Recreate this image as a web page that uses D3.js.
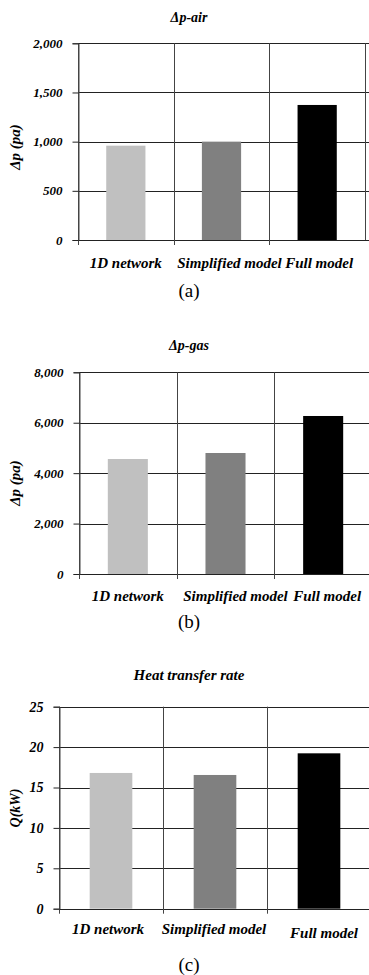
<!DOCTYPE html>
<html>
<head>
 <title>Pressure drop and heat transfer</title>
 <script src="https://d3js.org/d3.v7.min.js"></script>
 <style>
   body { margin: 0; background: #fff; }
   svg { display: block; }
 </style>
</head>
<body>
 <div id="chart"></div>
 <script>
   // categories and values
   const categories = ["1D network", "Simplified model", "Full model"];
   const airValues = [959, 1000, 1373];
   const gasValues = [4561, 4799, 6267];
   const heatValues = [16.8, 16.55, 19.23];
   const airTicks = [0, 500, 1000, 1500, 2000];
   const gasTicks = [0, 2000, 4000, 6000, 8000];
   const heatTicks = [0, 5, 10, 15, 20, 25];
   const barColors = ["#c0c0c0", "#808080", "#000000"];

   const serif = '"Liberation Serif", "Times New Roman", Times, serif';

   let svg = d3.select('#chart')
     .append('svg')
     .attr('width', 369)
     .attr('height', 975);

   // bold italic serif, like the labels in the figure
   function boldItalic(sel, size) {
     sel.style('font-family', serif)
       .style('font-weight', 'bold')
       .style('font-style', 'italic')
       .style('font-size', size + 'px')
       .attr('fill', '#000');
   }

   // one panel = one small bar chart
   function drawPanel(p) {
     let g = svg.append('g');

     let x = d3.scaleBand()
       .domain(categories)
       .range([p.left, p.right]);

     let y = d3.scaleLinear()
       .domain([0, p.max])
       .range([p.bottom, p.top]);

     // horizontal grid lines
     g.selectAll('line.hgrid')
       .data(p.ticks)
       .enter()
       .append('line')
       .attr('x1', p.left)
       .attr('x2', 369)
       .attr('y1', d => Math.round(y(d)) + 0.5)
       .attr('y2', d => Math.round(y(d)) + 0.5)
       .attr('stroke', '#222')
       .attr('stroke-width', 1);

     // vertical lines between categories (also the x tick marks)
     let bounds = categories.map(c => x(c)).concat(p.rightBorder ? [p.right] : []);
     g.selectAll('line.vgrid')
       .data(bounds)
       .enter()
       .append('line')
       .attr('x1', d => Math.round(d) + 0.5)
       .attr('x2', d => Math.round(d) + 0.5)
       .attr('y1', p.top)
       .attr('y2', (d, i) => i < categories.length ? p.bottom + 5 : p.bottom)
       .attr('stroke', '#444')
       .attr('stroke-width', 1);

     // bars
     let bw = x.bandwidth() * 0.41;
     g.selectAll('rect')
       .data(p.values)
       .enter()
       .append('rect')
       .attr('x', (d, i) => x(categories[i]) + (x.bandwidth() - bw) / 2)
       .attr('y', d => y(d))
       .attr('width', bw)
       .attr('height', d => y(0) - y(d))
       .attr('fill', (d, i) => barColors[i]);

     // y axis
     let yAxis = d3.axisLeft(y)
       .tickValues(p.ticks)
       .tickSize(6)
       .tickPadding(10)
       .tickFormat(p.fmt);
     let ya = g.append('g')
       .attr('transform', `translate(${Math.round(p.left) + 0.5},0)`)
       .call(yAxis);
     ya.select('.domain').attr('stroke', '#444');
     ya.selectAll('.tick line').attr('stroke', '#222');
     boldItalic(ya.selectAll('.tick text'), p.tickSize);

     // category labels
     let xl = g.selectAll('text.xl')
       .data(categories)
       .enter()
       .append('text')
       .attr('text-anchor', 'middle')
       .attr('x', (d, i) => x(d) + x.bandwidth() / 2 + p.labelDx[i])
       .attr('y', (d, i) => p.labelY + p.labelDy[i])
       .text(d => d);
     boldItalic(xl, 15);

     // title
     let t = g.append('text')
       .attr('text-anchor', 'middle')
       .attr('x', 189)
       .attr('y', p.titleY)
       .text(p.title);
     boldItalic(t, p.titleSize);

     // y axis title
     let yt = g.append('text')
       .attr('text-anchor', 'middle')
       .attr('transform', `translate(20,${p.yTitleY}) rotate(-90)`)
       .text(p.yTitle);
     boldItalic(yt, p.yTitleSize);

     // caption
     g.append('text')
       .attr('text-anchor', 'middle')
       .attr('x', 189)
       .attr('y', p.capY)
       .style('font-family', serif)
       .style('font-size', '19px')
       .text(p.caption);
   }

   drawPanel({
     values: airValues, ticks: airTicks, max: 2000, fmt: d3.format(','),
     left: 78, right: 365, top: 43.3, bottom: 240, rightBorder: true,
     title: 'Δp-air', titleY: 22, titleSize: 14,
     yTitle: 'Δp (pa)', yTitleY: 147, yTitleSize: 15, tickSize: 13,
     labelY: 268, labelDx: [0, 8, 2], labelDy: [0, 0, 0],
     caption: '(a)', capY: 297
   });

   drawPanel({
     values: gasValues, ticks: gasTicks, max: 8000, fmt: d3.format(','),
     left: 79, right: 372, top: 372.3, bottom: 574, rightBorder: false,
     title: 'Δp-gas', titleY: 350, titleSize: 14,
     yTitle: 'Δp (pa)', yTitleY: 483, yTitleSize: 15, tickSize: 13,
     labelY: 601, labelDx: [0, 10, 4], labelDy: [0, 0, 0],
     caption: '(b)', capY: 628
   });

   drawPanel({
     values: heatValues, ticks: heatTicks, max: 25, fmt: d3.format('d'),
     left: 59, right: 371, top: 706.7, bottom: 908.7, rightBorder: false,
     title: 'Heat transfer rate', titleY: 680, titleSize: 15,
     yTitle: 'Q(kW)', yTitleY: 808, yTitleSize: 14, tickSize: 14,
     labelY: 934, labelDx: [-3, -1, 5], labelDy: [0, 0, 4],
     caption: '(c)', capY: 971
   });
 </script>
</body>
</html>
